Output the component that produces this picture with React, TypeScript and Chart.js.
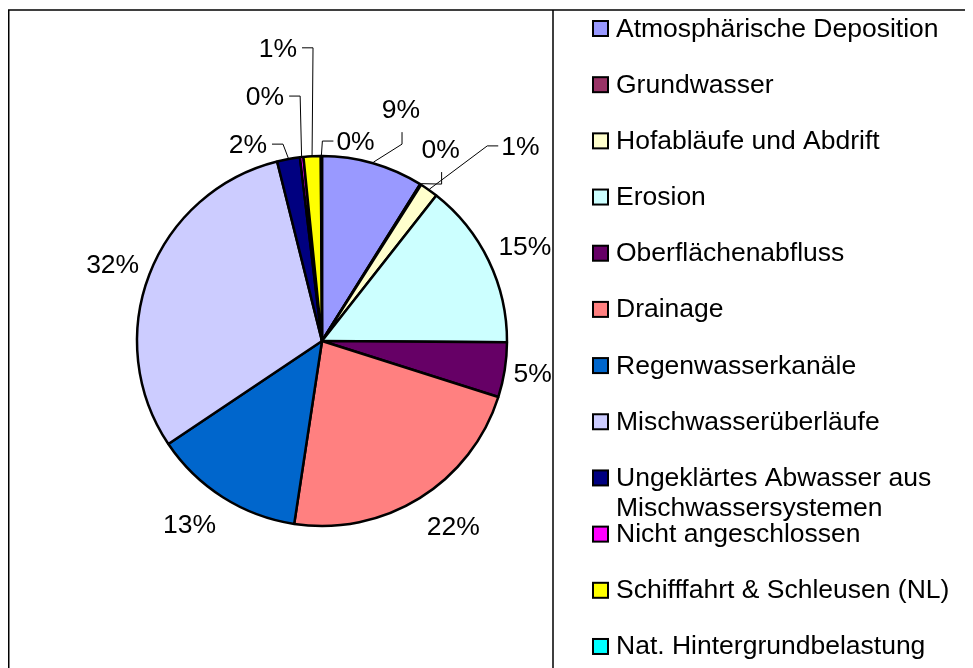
import React, { useEffect, useRef } from "react";
import { Chart, registerables } from "chart.js";

Chart.register(...registerables);

// ---- data ----
const categories = [
  "Atmosphärische Deposition",
  "Grundwasser",
  "Hofabläufe und Abdrift",
  "Erosion",
  "Oberflächenabfluss",
  "Drainage",
  "Regenwasserkanäle",
  "Mischwasserüberläufe",
  "Ungeklärtes Abwasser aus Mischwassersystemen",
  "Nicht angeschlossen",
  "Schifffahrt & Schleusen (NL)",
  "Nat. Hintergrundbelastung",
];

const shares = [8.9, 0.1, 1.6, 14.5, 4.8, 22.5, 13.2, 30.5, 2.0, 0.3, 1.5, 0.1];

const percentLabels = ["9%", "0%", "1%", "15%", "5%", "22%", "13%", "32%", "2%", "0%", "1%", "0%"];

const sliceColors = [
  "#9999FF",
  "#993366",
  "#FFFFCC",
  "#CCFFFF",
  "#660066",
  "#FF8080",
  "#0066CC",
  "#CCCCFF",
  "#000080",
  "#FF00FF",
  "#FFFF00",
  "#00FFFF",
];

// ---- label layout (angle offset from slice middle in degrees, distance in radii, leader style) ----
const labelDAng = [2.8, -0.5, 10.2, 0.7, -0.4, -3.5, 3.5, -0.9, -10.2, -6.8, -5.5, 9.7];
const labelDist = [1.317, 1.213, 1.496, 1.204, 1.145, 1.22, 1.215, 1.199, 1.131, 1.352, 1.594, 1.09];
const labelLeader = ["bottom", "bottom", "left", "none", "none", "none", "none", "none", "right", "right", "right", "left"];

const FONT = '26.5px "Liberation Sans", Arial, Helvetica, sans-serif';

function wrapText(ctx: CanvasRenderingContext2D, text: string, maxW: number): string[] {
  const words = text.split(" ");
  const lines: string[] = [];
  let cur = "";
  for (const w of words) {
    const t = cur ? cur + " " + w : w;
    if (ctx.measureText(t).width > maxW && cur) {
      lines.push(cur);
      cur = w;
    } else {
      cur = t;
    }
  }
  if (cur) lines.push(cur);
  return lines;
}

const overlayPlugin = {
  id: "overlay",
  afterDraw(chart: any) {
    const ctx: CanvasRenderingContext2D = chart.ctx;
    const meta = chart.getDatasetMeta(0);
    ctx.save();

    // frame
    ctx.strokeStyle = "#000";
    ctx.lineWidth = 1.5;
    ctx.beginPath();
    ctx.moveTo(0.75, chart.height);
    ctx.lineTo(0.75, 2);
    ctx.lineTo(chart.width, 2);
    ctx.moveTo(545, 2);
    ctx.lineTo(545, chart.height);
    ctx.stroke();

    // percentage labels with leaders
    ctx.font = FONT;
    ctx.fillStyle = "#000";
    ctx.textAlign = "center";
    ctx.textBaseline = "alphabetic";
    ctx.lineWidth = 1;
    meta.data.forEach((arc: any, i: number) => {
      const { x, y, startAngle, endAngle, outerRadius } = arc.getProps(
        ["x", "y", "startAngle", "endAngle", "outerRadius"],
        true
      );
      const mid = (startAngle + endAngle) / 2;
      const a = mid + (labelDAng[i] * Math.PI) / 180;
      const R = outerRadius + 1;
      const cx = x + Math.cos(a) * labelDist[i] * R;
      const cy = y + Math.sin(a) * labelDist[i] * R;
      const text = percentLabels[i];
      const w = ctx.measureText(text).width;
      const baseline = cy + 9;
      ctx.fillText(text, cx, baseline);

      const rimX = x + Math.cos(mid) * R;
      const rimY = y + Math.sin(mid) * R;
      const kind = labelLeader[i];
      if (kind === "none") return;
      ctx.beginPath();
      if (kind === "bottom") {
        ctx.moveTo(cx + 1, baseline + 14);
        ctx.lineTo(cx + 1, baseline + 26);
        ctx.lineTo(rimX, rimY);
      } else if (kind === "right") {
        const ax = cx + w / 2 + 5;
        ctx.moveTo(ax, cy);
        ctx.lineTo(ax + 11, cy);
        ctx.lineTo(rimX, rimY);
      } else {
        const ax = cx - w / 2 - 3;
        ctx.moveTo(ax, cy);
        ctx.lineTo(ax - 11, cy);
        ctx.lineTo(rimX, rimY);
      }
      ctx.stroke();
    });

    // legend
    ctx.textAlign = "left";
    const rowStep = 56.18;
    categories.forEach((label, i) => {
      const c = 20 + i * rowStep;
      ctx.fillStyle = sliceColors[i];
      ctx.fillRect(585, c - 7, 15, 15);
      ctx.strokeStyle = "#000";
      ctx.lineWidth = 2;
      ctx.strokeRect(585, c - 7, 15, 15);
      ctx.fillStyle = "#000";
      const lines = wrapText(ctx, label, 345);
      lines.forEach((ln, k) => {
        ctx.fillText(ln, 608, c + 8.5 + k * 30);
      });
    });

    ctx.restore();
  },
};

export default function App() {
  const ref = useRef<HTMLCanvasElement | null>(null);
  useEffect(() => {
    if (!ref.current) return;
    const chart = new Chart(ref.current, {
      type: "pie",
      data: {
        labels: categories,
        datasets: [
          {
            data: shares,
            backgroundColor: sliceColors,
            borderColor: "#000",
            borderWidth: 2.5,
            radius: 185,
            hoverOffset: 0,
          } as any,
        ],
      },
      options: {
        responsive: false,
        animation: false,
        events: [],
        layout: { padding: { left: 0, right: 337, top: 6, bottom: 0 } },
        plugins: {
          legend: { display: false },
          tooltip: { enabled: false },
          title: { display: false },
        },
      },
      plugins: [overlayPlugin],
    });
    return () => chart.destroy();
  }, []);
  return (
    <div style={{ width: 965, height: 660 }}>
      <canvas ref={ref} width={965} height={660} style={{ display: "block", width: 965, height: 660 }} />
    </div>
  );
}
